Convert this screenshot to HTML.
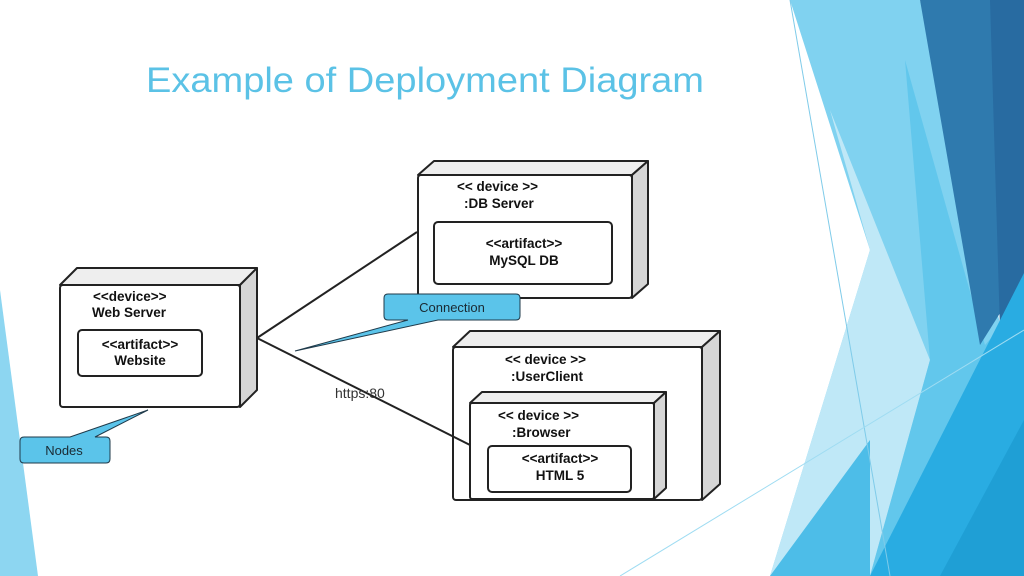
<!DOCTYPE html>
<html><head><meta charset="utf-8"><style>
html,body{margin:0;padding:0;background:#fff;}
svg{display:block;}
text{font-family:"Liberation Sans",Arial,sans-serif;}
.b{font-weight:bold;font-size:13.5px;fill:#111;}
</style></head><body>
<svg width="1024" height="576" viewBox="0 0 1024 576" xmlns="http://www.w3.org/2000/svg">
<rect width="1024" height="576" fill="#fff"/>
<polygon points="0,290 38,576 0,576" fill="#8dd6f1"/>
<!-- right decoration -->
<polygon points="790,0 920,0 1024,420 1024,576 770,576 870,250" fill="#80d2f0"/>
<polygon points="830,110 930,360 870,576 770,576 870,250" fill="#bfe8f7"/>
<polygon points="905,60 985,345 1024,300 1024,576 870,576 930,360" fill="#62c7ec"/>
<polygon points="920,0 1024,0 1024,275 980,345" fill="#2f7aae"/>
<polygon points="990,0 1024,0 1024,275 1000,330" fill="#286ba1"/>
<polygon points="870,576 1024,273 1024,576" fill="#29ace2"/>
<polygon points="940,576 1024,420 1024,576" fill="#1f9fd5"/>
<polygon points="770,576 870,440 870,576" fill="#4dbde8"/>
<line x1="790" y1="0" x2="890" y2="576" stroke="#7fcbe9" stroke-width="1"/>
<line x1="620" y1="576" x2="1024" y2="330" stroke="#9fdcf2" stroke-width="1"/>
<!-- title -->
<text x="146" y="92" font-size="35" fill="#5bc2e6" textLength="558" lengthAdjust="spacingAndGlyphs">Example of Deployment Diagram</text>

<g stroke="#222" stroke-width="2" stroke-linejoin="round">
<line x1="257" y1="338" x2="417" y2="232"/>
<!-- web server -->
<polygon points="60,285 77,268 257,268 240,285" fill="#eee"/>
<polygon points="240,285 257,268 257,390 240,407" fill="#d6d6d6"/>
<rect x="60" y="285" width="180" height="122" rx="3" fill="#fff"/>
<rect x="78" y="330" width="124" height="46" rx="4" fill="#fff"/>
<!-- db server -->
<polygon points="418,175 434,161 648,161 632,175" fill="#eee"/>
<polygon points="632,175 648,161 648,284 632,298" fill="#d6d6d6"/>
<rect x="418" y="175" width="214" height="123" rx="3" fill="#fff"/>
<rect x="434" y="222" width="178" height="62" rx="4" fill="#fff"/>
<!-- user client -->
<polygon points="453,347 470,331 720,331 702,347" fill="#eee"/>
<polygon points="702,347 720,331 720,484 702,500" fill="#d6d6d6"/>
<rect x="453" y="347" width="249" height="153" rx="3" fill="#fff"/>
<line x1="257" y1="338" x2="470" y2="445"/>
<!-- browser -->
<polygon points="470,403 482,392 666,392 654,403" fill="#eee"/>
<polygon points="654,403 666,392 666,488 654,499" fill="#d6d6d6"/>
<rect x="470" y="403" width="184" height="96" rx="2" fill="#fff"/>
<rect x="488" y="446" width="143" height="46" rx="4" fill="#fff"/>
</g>
<text class="b" x="93" y="301">&lt;&lt;device&gt;&gt;</text>
<text class="b" x="92" y="317">Web Server</text>
<text class="b" x="140" y="349" text-anchor="middle">&lt;&lt;artifact&gt;&gt;</text>
<text class="b" x="140" y="365" text-anchor="middle">Website</text>
<text class="b" x="457" y="191">&lt;&lt; device &gt;&gt;</text>
<text class="b" x="464" y="208">:DB Server</text>
<text class="b" x="524" y="248" text-anchor="middle">&lt;&lt;artifact&gt;&gt;</text>
<text class="b" x="524" y="265" text-anchor="middle">MySQL DB</text>
<text class="b" x="505" y="364">&lt;&lt; device &gt;&gt;</text>
<text class="b" x="511" y="381">:UserClient</text>
<text class="b" x="498" y="420">&lt;&lt; device &gt;&gt;</text>
<text class="b" x="512" y="437">:Browser</text>
<text class="b" x="560" y="463" text-anchor="middle">&lt;&lt;artifact&gt;&gt;</text>
<text class="b" x="560" y="480" text-anchor="middle">HTML 5</text>
<text x="335" y="398" font-size="14" fill="#333">https:80</text>
<g stroke="#1f3a4a" stroke-width="1" fill="#5bc4ea">
<path d="M388,294 H516 Q520,294 520,298 V316 Q520,320 516,320 H438 L295,351 L408,320 H388 Q384,320 384,316 V298 Q384,294 388,294 Z"/>
<path d="M24,437 H70 L148,410 L95,437 H106 Q110,437 110,441 V459 Q110,463 106,463 H24 Q20,463 20,459 V441 Q20,437 24,437 Z"/>
</g>
<text x="452" y="312" font-size="13" fill="#1a2a33" text-anchor="middle">Connection</text>
<text x="64" y="455" font-size="13" fill="#1a2a33" text-anchor="middle">Nodes</text>
</svg>
</body></html>
